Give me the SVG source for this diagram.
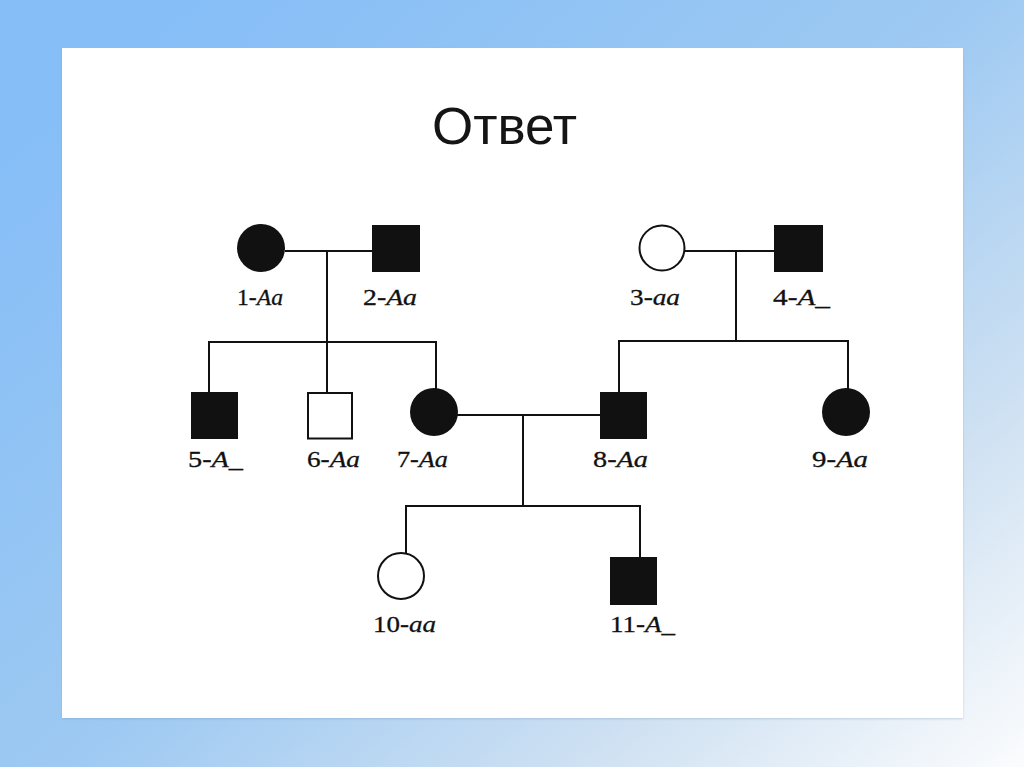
<svg xmlns="http://www.w3.org/2000/svg" width="1024" height="767" viewBox="0 0 1024 767">
<defs>
<linearGradient id="bg" x1="0.05" y1="0.15" x2="1" y2="1">
<stop offset="0" stop-color="#86bef7"/>
<stop offset="0.45" stop-color="#9dc9f2"/>
<stop offset="0.75" stop-color="#cfe1f2"/>
<stop offset="1" stop-color="#fbfcfd"/>
</linearGradient>
<filter id="sh" x="-5%" y="-5%" width="110%" height="110%">
<feDropShadow dx="0" dy="1" stdDeviation="1.2" flood-color="#6a8fb5" flood-opacity="0.35"/>
</filter>
<style>
.f{fill:#111;stroke:none}
.o{fill:#fff;stroke:#111;stroke-width:2}
.c line{stroke:#111;stroke-width:2}
.lb{font-family:"Liberation Serif","Times New Roman",serif;font-size:23px;fill:#111;stroke:#111;stroke-width:0.3}
.i{font-style:italic}
.t{font-family:"Liberation Sans",Arial,sans-serif;font-size:51px;fill:#151515}
</style>
</defs>
<rect x="0" y="0" width="1024" height="767" fill="url(#bg)"/>
<rect x="62" y="48" width="901" height="670" fill="#ffffff" filter="url(#sh)"/>
<text class="t" x="432" y="144" textLength="145" lengthAdjust="spacingAndGlyphs">Ответ</text>
<g id="connectors" class="c">
<line x1="285" y1="251" x2="372" y2="251"/>
<line x1="327" y1="251" x2="327" y2="393"/>
<line x1="209" y1="342" x2="437" y2="342"/>
<line x1="209" y1="341" x2="209" y2="393"/>
<line x1="436" y1="341" x2="436" y2="390"/>
<line x1="684" y1="251" x2="774" y2="251"/>
<line x1="736" y1="251" x2="736" y2="341"/>
<line x1="619" y1="341" x2="849" y2="341"/>
<line x1="619" y1="340" x2="619" y2="393"/>
<line x1="848" y1="340" x2="848" y2="390"/>
<line x1="457" y1="415" x2="600" y2="415"/>
<line x1="523" y1="415" x2="523" y2="506"/>
<line x1="406" y1="506" x2="641" y2="506"/>
<line x1="406" y1="505" x2="406" y2="554"/>
<line x1="640" y1="505" x2="640" y2="558"/>
</g>
<g id="n1"><circle class="f" cx="261" cy="248" r="24"/><text class="lb" x="237" y="305" textLength="46" lengthAdjust="spacingAndGlyphs">1-<tspan class="i">Aa</tspan></text></g>
<g id="n2"><rect class="f" x="372" y="225" width="48" height="47"/><text class="lb" x="363" y="305" textLength="54" lengthAdjust="spacingAndGlyphs">2-<tspan class="i">Aa</tspan></text></g>
<g id="n3"><circle class="o" cx="662" cy="248" r="22.5"/><text class="lb" x="630" y="305" textLength="50" lengthAdjust="spacingAndGlyphs">3-<tspan class="i">aa</tspan></text></g>
<g id="n4"><rect class="f" x="774" y="225" width="49" height="47"/><text class="lb" x="773" y="305" textLength="57" lengthAdjust="spacingAndGlyphs">4-<tspan class="i">A_</tspan></text></g>
<g id="n5"><rect class="f" x="191" y="392" width="47" height="47"/><text class="lb" x="188" y="467" textLength="55" lengthAdjust="spacingAndGlyphs">5-<tspan class="i">A_</tspan></text></g>
<g id="n6"><rect class="o" x="308" y="393" width="44" height="45.5"/><text class="lb" x="307" y="467" textLength="53" lengthAdjust="spacingAndGlyphs">6-<tspan class="i">Aa</tspan></text></g>
<g id="n7"><circle class="f" cx="434" cy="412" r="24"/><text class="lb" x="397" y="467" textLength="51" lengthAdjust="spacingAndGlyphs">7-<tspan class="i">Aa</tspan></text></g>
<g id="n8"><rect class="f" x="600" y="392" width="47" height="47"/><text class="lb" x="593" y="467" textLength="55" lengthAdjust="spacingAndGlyphs">8-<tspan class="i">Aa</tspan></text></g>
<g id="n9"><circle class="f" cx="846" cy="412" r="24"/><text class="lb" x="812" y="467" textLength="56" lengthAdjust="spacingAndGlyphs">9-<tspan class="i">Aa</tspan></text></g>
<g id="n10"><circle class="o" cx="401" cy="576" r="23"/><text class="lb" x="373" y="632" textLength="63" lengthAdjust="spacingAndGlyphs">10-<tspan class="i">aa</tspan></text></g>
<g id="n11"><rect class="f" x="610" y="557" width="47" height="48"/><text class="lb" x="610" y="632" textLength="65" lengthAdjust="spacingAndGlyphs">11-<tspan class="i">A_</tspan></text></g>
</svg>
